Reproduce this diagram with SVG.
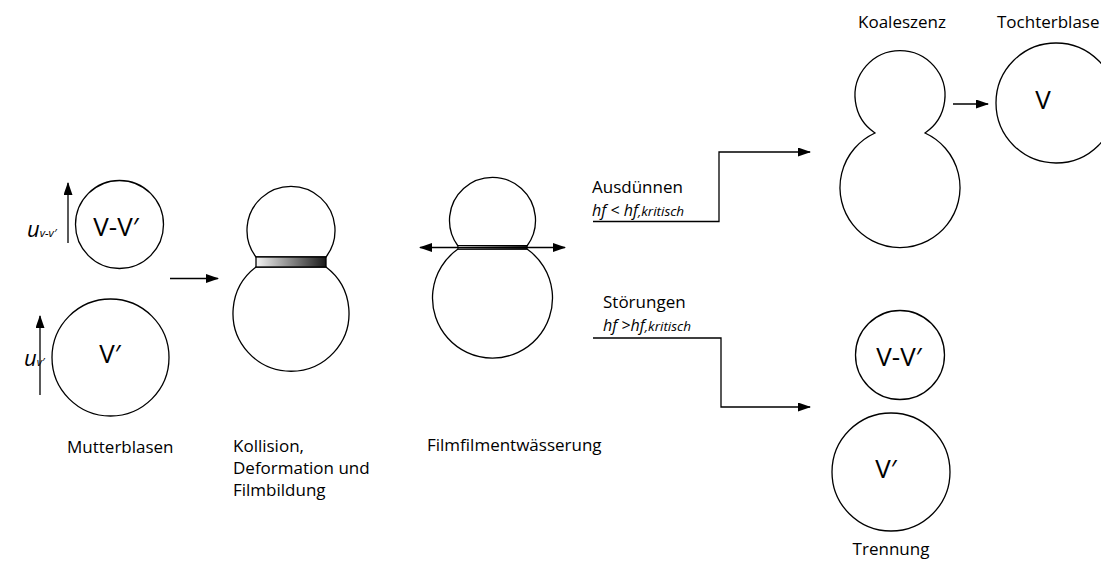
<svg xmlns="http://www.w3.org/2000/svg" width="1101" height="562" viewBox="0 0 1101 562">
<style>
.s{fill:#fff;stroke:#000;stroke-width:1.3}
.c{fill:none;stroke:#000;stroke-width:1.3}
.t{font-family:"Open Sans","Noto Sans",sans-serif;font-size:17px;fill:#000}
.v{font-family:"Open Sans","Noto Sans",sans-serif;font-size:26px;fill:#000}
.i{font-family:"Open Sans","Noto Sans",sans-serif;font-style:italic;fill:#000}
</style>
<defs>
<marker id="ah" viewBox="0 0 13 9" refX="12" refY="4.5" markerWidth="13" markerHeight="9" markerUnits="userSpaceOnUse" orient="auto-start-reverse">
<path d="M0,0 L13,4.5 L0,9 z" fill="#000"/>
</marker>
<linearGradient id="g" x1="0" x2="1" y1="0" y2="0">
<stop offset="0" stop-color="#f4f4f4"/>
<stop offset="1" stop-color="#1a1a1a"/>
</linearGradient>
</defs>
<rect width="1101" height="562" fill="#fff"/>

<g id="mutterblasen">
<circle class="s" cx="119.5" cy="224.5" r="44"/>
<text class="v" x="116" y="236" text-anchor="middle">V-V′</text>
<circle class="s" cx="110.5" cy="357.5" r="58.5"/>
<text class="v" x="110" y="363" text-anchor="middle">V′</text>
<text class="i" x="27" y="237" font-size="22">u<tspan font-size="11.5">v-v′</tspan></text>
<text class="i" x="24" y="366" font-size="22">u<tspan font-size="11.5">v′</tspan></text>
<text class="t" x="67" y="453">Mutterblasen</text>
</g>

<g id="kollision">
<path class="s" d="M256,257 A44,44 0 1,1 326,257 Z"/>
<path class="s" d="M256,267 A58,58 0 1,0 326,267 Z"/>
<rect x="256" y="257" width="70" height="10" fill="url(#g)" stroke="#000" stroke-width="1.3"/>
<text class="t" x="233" y="452">Kollision,</text>
<text class="t" x="233" y="474">Deformation und</text>
<text class="t" x="233" y="496">Filmbildung</text>
</g>

<g id="filmentwaesserung">
<path class="s" d="M458,246 A43,43 0 1,1 527,246 Z"/>
<path class="s" d="M458,249 A60,60 0 1,0 527,249 Z"/>
<rect x="458" y="245.5" width="69" height="3.5" fill="url(#g)" stroke="#000" stroke-width="1"/>
<text class="t" x="427" y="451">Filmfilmentwässerung</text>
</g>

<g id="koaleszenz">
<path class="s" d="M875,133 A45,45 0 1,1 925,133 A60,60 0 1,1 875,133 Z"/>
<text class="t" x="902" y="28" text-anchor="middle">Koaleszenz</text>
</g>

<g id="tochterblase">
<circle class="s" cx="1056" cy="103" r="60"/>
<text class="v" x="1043" y="109" text-anchor="middle">V</text>
<text class="t" x="997" y="28">Tochterblase</text>
</g>

<g id="trennung">
<circle class="s" cx="900" cy="355" r="44.5"/>
<text class="v" x="899" y="366" text-anchor="middle">V-V′</text>
<circle class="s" cx="891" cy="472" r="59"/>
<text class="v" x="886" y="478" text-anchor="middle">V′</text>
<text class="t" x="891" y="555" text-anchor="middle">Trennung</text>
</g>

<g id="labels">
<text class="t" x="592" y="193">Ausdünnen</text>
<text class="i" x="592" y="216" font-size="16">hf &lt; hf<tspan font-size="13.5">,kritisch</tspan></text>
<text class="t" x="603" y="308">Störungen</text>
<text class="i" x="603" y="331" font-size="16">hf &gt;hf<tspan font-size="13.5">,kritisch</tspan></text>
</g>

<g id="connectors">
<line class="c" x1="68" y1="243" x2="68" y2="183" marker-end="url(#ah)"/>
<line class="c" x1="40" y1="395" x2="40" y2="316" marker-end="url(#ah)"/>
<line class="c" x1="170" y1="278.5" x2="218" y2="278.5" marker-end="url(#ah)"/>
<line class="c" x1="420" y1="247.5" x2="565" y2="247.5" marker-start="url(#ah)" marker-end="url(#ah)"/>
<polyline class="c" points="593,221.5 719,221.5 719,152 810,152" marker-end="url(#ah)"/>
<polyline class="c" points="593,338 721,338 721,407 810,407" marker-end="url(#ah)"/>
<line class="c" x1="953" y1="104" x2="988" y2="104" marker-end="url(#ah)"/>
</g>
</svg>
